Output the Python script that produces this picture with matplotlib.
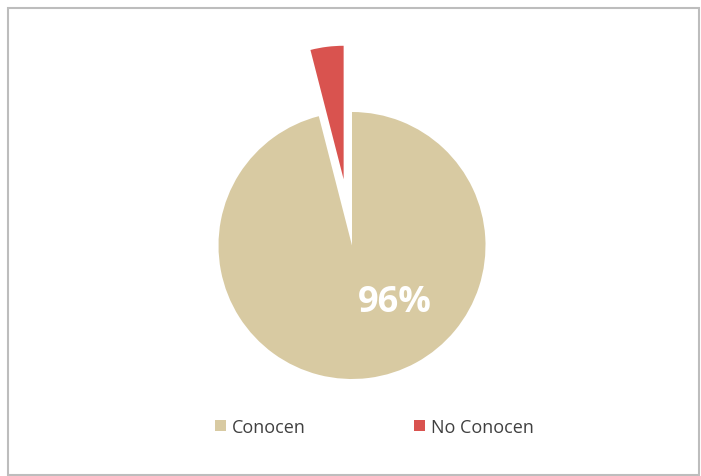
import matplotlib
matplotlib.use("Agg")
import matplotlib.pyplot as plt
from matplotlib.patches import Patch, Rectangle

categories = ["Conocen", "No Conocen"]
values = [96, 4]
colors = ["#D8CAA2", "#D9534F"]
explode = [0, 0.5]

W, H = 701, 477
fig = plt.figure(figsize=(W / 100, H / 100), dpi=100)
fig.patch.set_facecolor("white")

# frame
fig.patches.append(Rectangle((8 / W, 1 / H), (699 - 8) / W, (467) / H,
                             transform=fig.transFigure, fill=False,
                             edgecolor="#BDBDBD", linewidth=1.5))

cx, cy, r = 352, 246.5, 133.5
half = 205
ax = fig.add_axes([(cx - half) / W, (H - cy - half) / H, 2 * half / W, 2 * half / H])

wedges, _ = ax.pie(values, colors=colors, explode=explode, startangle=90,
                   counterclock=False, radius=1, wedgeprops=dict(linewidth=0))
for w in wedges:
    w.set_clip_on(False)

lim = half / r
ax.set_xlim(-lim, lim)
ax.set_ylim(-lim, lim)
ax.axis("off")

ax.text(0.32, -0.42, f"{values[0]}%", color="white", fontsize=26,
        fontweight="bold", family="Open Sans", ha="center", va="center")

handles = [Patch(facecolor=c, edgecolor="none") for c in colors]
fig.legend(handles, categories, loc="center", bbox_to_anchor=(374.5 / W, 1 - 428 / H),
           ncol=2, frameon=False, handlelength=0.6, handleheight=0.6,
           handletextpad=0.35, columnspacing=6.0,
           prop=dict(family="Open Sans", size=13), labelcolor="#404040")

fig.savefig("out.png", dpi=100, facecolor="white")
